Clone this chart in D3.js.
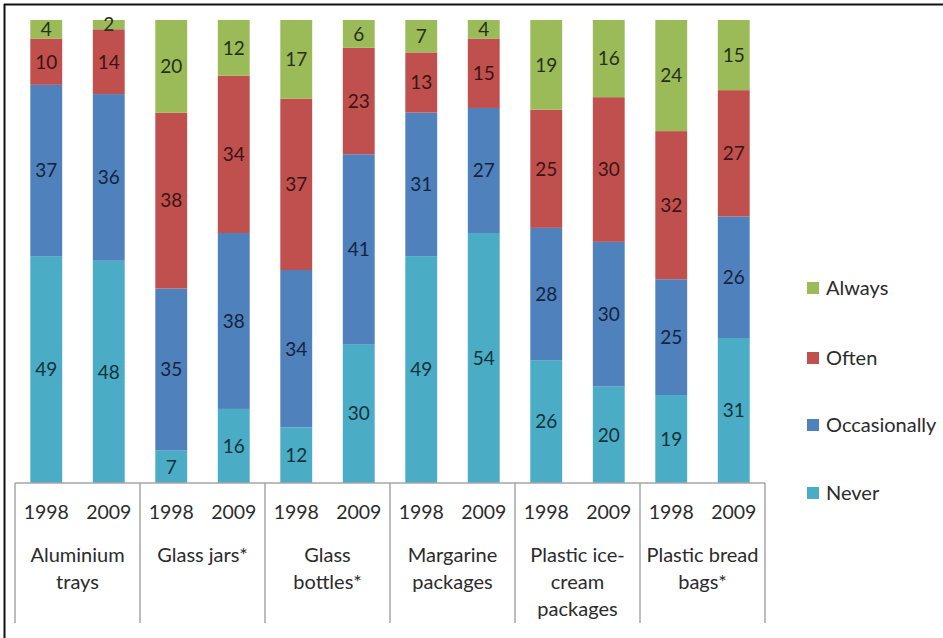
<!DOCTYPE html>
<html>
<head>
<meta charset="utf-8">
<script src="https://cdn.jsdelivr.net/npm/d3@7"></script>
<style>
  html, body { margin: 0; padding: 0; background: #fff; }
  svg { display: block; }
  text { font-family: Lato, "Open Sans", sans-serif; }
</style>
</head>
<body>
<svg id="chart" width="943" height="638"></svg>
<script>
// Packaging categories and survey years
const categories = [
  ["Aluminium", "trays"],
  ["Glass jars*"],
  ["Glass", "bottles*"],
  ["Margarine", "packages"],
  ["Plastic ice-", "cream", "packages"],
  ["Plastic bread", "bags*"]
];
const years = ["1998", "2009"];

// Series in stacking order (bottom to top)
const seriesNames = ["Never", "Occasionally", "Often", "Always"];

// Values per bar: category x year, in order 1998, 2009 for each category
const never        = [49, 48, 7, 16, 12, 30, 49, 54, 26, 20, 19, 31];
const occasionally = [37, 36, 35, 38, 34, 41, 31, 27, 28, 30, 25, 26];
const often        = [10, 14, 38, 34, 37, 23, 13, 15, 25, 30, 32, 27];
const always       = [4, 2, 20, 12, 17, 6, 7, 4, 19, 16, 24, 15];

const colors = {
  Never: "#4bacc6",
  Occasionally: "#4f81bd",
  Often: "#c0504d",
  Always: "#9bbb59"
};
const labelColors = {
  Never: "#14323b",
  Occasionally: "#15233d",
  Often: "#3a1414",
  Always: "#25301a"
};

const svg = d3.select("#chart");

// Bars: one row per category/year combination
const bars = [];
categories.forEach((c, ci) => {
  years.forEach((y, yi) => {
    const i = ci * 2 + yi;
    bars.push({
      key: ci + "-" + y,
      year: y,
      Never: never[i],
      Occasionally: occasionally[i],
      Often: often[i],
      Always: always[i]
    });
  });
});

const plotLeft = 15, plotRight = 765, plotTop = 20, plotBottom = 483;

const x = d3.scaleBand()
  .domain(bars.map(d => d.key))
  .range([plotLeft, plotRight])
  .paddingInner(0.49)
  .paddingOuter(0.245);

const y = d3.scaleLinear().domain([0, 1]).range([plotBottom, plotTop]);

// 100% stacking: each bar normalised to its own total
const stack = d3.stack().keys(seriesNames).offset(d3.stackOffsetExpand);
const layers = stack(bars);

const g = svg.append("g");

layers.forEach(layer => {
  const name = layer.key;
  g.selectAll(null)
    .data(layer)
    .join("rect")
    .attr("x", d => x(d.data.key))
    .attr("width", x.bandwidth())
    .attr("y", d => y(d[1]))
    .attr("height", d => y(d[0]) - y(d[1]))
    .attr("fill", colors[name]);
});

layers.forEach(layer => {
  const name = layer.key;
  g.selectAll(null)
    .data(layer)
    .join("text")
    .attr("x", d => x(d.data.key) + x.bandwidth() / 2)
    .attr("y", d => (y(d[0]) + y(d[1])) / 2)
    .attr("dy", "0.36em")
    .attr("text-anchor", "middle")
    .attr("font-size", 19)
    .attr("fill", labelColors[name])
    .text(d => d.data[name]);
});

// Category axis: baseline plus group separators
const axisColor = "#a6a6a6";
g.append("line")
  .attr("x1", plotLeft).attr("x2", plotRight)
  .attr("y1", plotBottom).attr("y2", plotBottom)
  .attr("stroke", axisColor).attr("stroke-width", 1.5);

const groupX = d3.scaleBand()
  .domain(categories.map((c, i) => i))
  .range([plotLeft, plotRight]);

const sepPositions = categories.map((c, i) => groupX(i)).concat([plotRight]);
g.selectAll(null)
  .data(sepPositions)
  .join("line")
  .attr("x1", d => d).attr("x2", d => d)
  .attr("y1", plotBottom).attr("y2", 623)
  .attr("stroke", axisColor).attr("stroke-width", 1.5);

// Year labels under each bar
g.selectAll(null)
  .data(bars)
  .join("text")
  .attr("x", d => x(d.key) + x.bandwidth() / 2)
  .attr("y", 512)
  .attr("dy", "0.36em")
  .attr("text-anchor", "middle")
  .attr("font-size", 19.5)
  .attr("fill", "#2b2b2b")
  .text(d => d.year);

// Category names, possibly over several lines
categories.forEach((lines, ci) => {
  const cx = groupX(ci) + groupX.bandwidth() / 2;
  lines.forEach((line, li) => {
    g.append("text")
      .attr("x", cx)
      .attr("y", 555 + li * 27)
      .attr("dy", "0.36em")
      .attr("text-anchor", "middle")
      .attr("font-size", 20)
      .attr("fill", "#2b2b2b")
      .text(line);
  });
});

// Legend, top series first
const legendItems = seriesNames.slice().reverse();
const legendY = [288, 358, 425, 493];
const legend = svg.append("g");
legendItems.forEach((name, i) => {
  legend.append("rect")
    .attr("x", 807).attr("y", legendY[i] - 6)
    .attr("width", 12).attr("height", 12)
    .attr("fill", colors[name]);
  legend.append("text")
    .attr("x", 826).attr("y", legendY[i])
    .attr("dy", "0.36em")
    .attr("font-size", 20)
    .attr("fill", "#2b2b2b")
    .text(name);
});

// Frame on the top and left edges
svg.append("line")
  .attr("x1", 4).attr("x2", 943).attr("y1", 4.5).attr("y2", 4.5)
  .attr("stroke", "#111").attr("stroke-width", 2);
svg.append("line")
  .attr("x1", 4.5).attr("x2", 4.5).attr("y1", 4).attr("y2", 638)
  .attr("stroke", "#111").attr("stroke-width", 2);
</script>
</body>
</html>
